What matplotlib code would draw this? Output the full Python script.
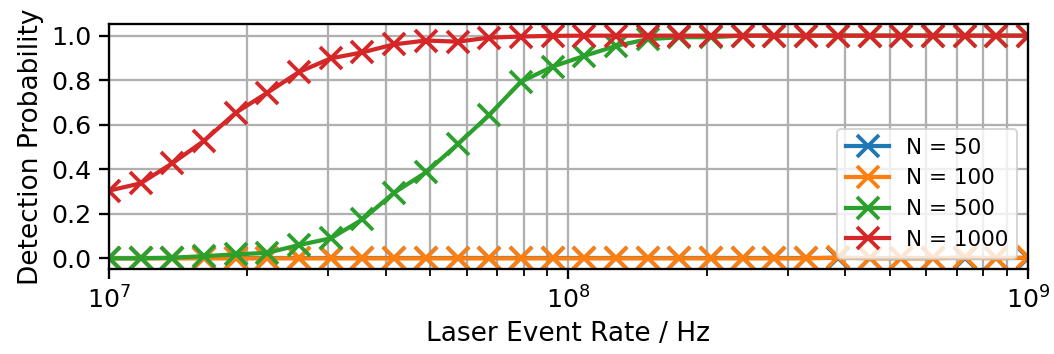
import numpy as np
import matplotlib
matplotlib.use("Agg")
import matplotlib.pyplot as plt

# Laser event rates (Hz), log-spaced from 1e7 to 1e9
rates = np.logspace(7, 9, 30)

labels = ["N = 50", "N = 100", "N = 500", "N = 1000"]

p_n50 = [0.0] * 30

p_n100 = [0.0, 0.0, 0.0, 0.0, 0.0, 0.0, 0.0, 0.0, 0.0, 0.0,
          0.0, 0.0, 0.0, 0.0, 0.0, 0.0, 0.0, 0.0, 0.0, 0.0,
          0.0, 0.0, 0.0, 0.004, 0.0, 0.0, 0.0, 0.004, 0.0, 0.004]

p_n500 = [0.0, 0.0, 0.003, 0.01, 0.018, 0.025, 0.06, 0.09, 0.175, 0.295,
          0.386, 0.512, 0.644, 0.793, 0.861, 0.909, 0.954, 0.984, 0.993, 0.993,
          1.0, 1.0, 1.0, 1.0, 1.0, 1.0, 1.0, 1.0, 1.0, 1.0]

p_n1000 = [0.304, 0.337, 0.427, 0.528, 0.654, 0.744, 0.837, 0.898, 0.925, 0.961,
           0.978, 0.973, 0.991, 0.996, 0.999, 1.0, 1.0, 1.0, 1.0, 1.0,
           1.0, 1.0, 1.0, 1.0, 1.0, 1.0, 1.0, 1.0, 1.0, 1.0]

series = [p_n50, p_n100, p_n500, p_n1000]
colors = ["#1f77b4", "#ff7f0e", "#2ca02c", "#d62728"]

dpi = 144
fig = plt.figure(figsize=(1054 / dpi, 354 / dpi), dpi=dpi)
ax = fig.add_axes([0.1034, 0.2393, 0.8719, 0.6921])

for vals, lab, col in zip(series, labels, colors):
    ax.plot(rates, vals, marker="x", markersize=11, markeredgewidth=1.9,
            linewidth=2.1, color=col, label=lab)

ax.set_xscale("log")
ax.set_xlim(1e7, 1e9)
ax.set_ylim(-0.049, 1.051)
ax.set_yticks([0.0, 0.2, 0.4, 0.6, 0.8, 1.0])

ax.grid(True, which="major", color="#b0b0b0", linewidth=1.15)
ax.grid(True, which="minor", axis="x", color="#b0b0b0", linewidth=1.15)

ax.tick_params(axis="both", which="major", labelsize=12.6, length=5, width=1.15)
ax.tick_params(axis="x", which="minor", length=3.5, width=0.9)
for sp in ax.spines.values():
    sp.set_linewidth(1.15)

ax.set_xlabel("Laser Event Rate / Hz", fontsize=13.2)
ax.set_ylabel("Detection Probability", fontsize=13.2)

ax.legend(loc="lower right", fontsize=10.75)

fig.savefig("out.png", dpi=dpi)
